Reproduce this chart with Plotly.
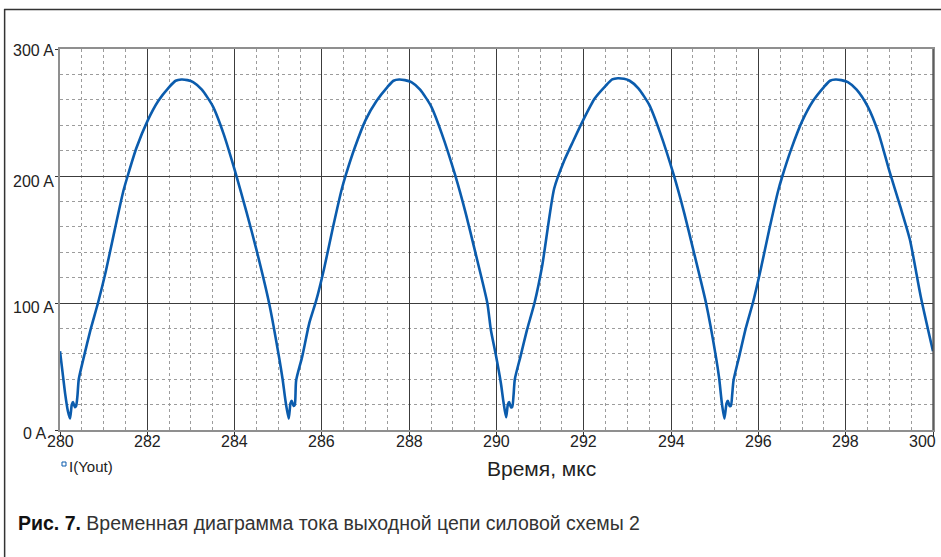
import plotly.graph_objects as go

# Time, µs
time_us = [
    280.00, 280.06, 280.12, 280.18, 280.23, 280.27, 280.30, 280.34, 280.37, 280.40, 280.43,
    280.55, 280.70, 280.87, 281.05, 281.25, 281.45, 281.55, 281.75, 282.00, 282.25, 282.50,
    282.65, 282.78, 282.92, 283.05, 283.25, 283.50, 283.75, 284.00, 284.27, 284.50, 284.79, 285.03, 285.10,
    285.17, 285.24, 285.28, 285.31, 285.35, 285.38, 285.41, 285.55, 285.71,
    285.87, 286.05, 286.25, 286.45, 286.55, 286.75, 287.00, 287.25, 287.50, 287.64, 287.77, 287.90, 288.05,
    288.25, 288.50, 288.75, 289.05, 289.30, 289.50, 289.79, 289.87, 289.98, 290.10, 290.16,
    290.22, 290.26, 290.29, 290.33, 290.36, 290.39, 290.42, 290.55, 290.70,
    290.87, 291.05, 291.32, 291.55, 291.75, 292.00, 292.25, 292.50, 292.65, 292.78, 292.92, 293.05, 293.25,
    293.50, 293.75, 294.05, 294.30, 294.50, 294.80, 295.03, 295.10, 295.16, 295.22, 295.27,
    295.30, 295.34, 295.37, 295.40, 295.43, 295.56, 295.71,
    295.88, 296.05, 296.25, 296.45, 296.55, 296.75, 297.00, 297.25, 297.50, 297.64, 297.77, 297.90, 298.05,
    298.25, 298.50, 298.75, 299.00, 299.25, 299.47, 299.72, 300.00,
]
# Current I(Yout), A
current_a = [
    62, 45, 28, 15, 9, 20, 22, 18, 19, 27, 40,
    58, 79, 100, 125, 157, 188, 200, 222, 243, 259, 270,
    275, 276, 275.5, 274, 268, 255, 233, 205, 172, 142, 100, 55, 40,
    22, 9, 21, 23, 19, 20, 39, 58, 84,
    102, 127, 159, 189, 201, 222, 244, 259, 270, 275, 276, 275.5, 274,
    268, 255, 233, 201, 170, 142, 100, 79, 60, 37, 22,
    10, 20, 22, 18, 18, 27, 40, 58, 79,
    100, 130, 190, 212, 227, 245, 261, 271, 276, 277, 276.5, 275, 269,
    256, 234, 202, 171, 143, 100, 57, 41, 22, 9, 21,
    23, 19, 19, 28, 39, 58, 80,
    101, 126, 158, 188, 200, 221, 243, 259, 270, 275, 276, 275.5, 274,
    268, 255, 234, 204, 176, 150, 105, 62,
]

x_ticks = [280, 282, 284, 286, 288, 290, 292, 294, 296, 298, 300]
y_ticks = [0, 100, 200, 300]
y_tick_text = ["0 A", "100 A", "200 A", "300 A"]

FONT = "Liberation Sans, Arial, sans-serif"

fig = go.Figure()
fig.add_trace(go.Scatter(
    x=time_us, y=current_a, mode="lines",
    line=dict(color="#0b5cad", width=2.6, shape="spline", smoothing=0.6),
    showlegend=False,
))

fig.update_layout(
    width=941, height=557, autosize=False,
    margin=dict(l=60, r=6, t=49, b=127),
    paper_bgcolor="white", plot_bgcolor="white",
    font=dict(family=FONT, color="#222"),
)

fig.update_xaxes(
    range=[280, 300], tickvals=x_ticks, showticklabels=False,
    showgrid=True, gridcolor="#3c3c3c", gridwidth=1,
    minor=dict(dtick=0.5, showgrid=True, gridcolor="#9c9c9c", griddash="dot", gridwidth=1),
    showline=True, linecolor="#8f8f8f", linewidth=2, mirror=True,
    ticks="outside", ticklen=5, tickcolor="#333", tickwidth=1,
    zeroline=False,
)
fig.update_yaxes(
    range=[0, 300], tickvals=y_ticks, showticklabels=False,
    showgrid=True, gridcolor="#3c3c3c", gridwidth=1,
    minor=dict(dtick=20, showgrid=True, gridcolor="#9c9c9c", griddash="dot", gridwidth=1),
    showline=True, linecolor="#8f8f8f", linewidth=2, mirror=True,
    ticks="outside", ticklen=3, tickcolor="#333", tickwidth=1,
    zeroline=False,
)

def px_x(px):
    return (px - 60) / 875.0

def px_y(py):
    return (430 - py) / 381.0

# x tick labels (close under the axis, last one kept inside the page)
for i, v in enumerate(x_ticks):
    last = i == len(x_ticks) - 1
    fig.add_annotation(text=str(v), xref="x", yref="paper", x=v, y=px_y(441),
                       xanchor="right" if last else "center", yanchor="middle",
                       xshift=5 if last else 0, showarrow=False,
                       font=dict(family=FONT, size=16, color="#222"))

# y tick labels (sit slightly below their grid lines, "0 A" pushed left of "280")
y_label_shift = {0: (-12, -3), 100: (-4, -4), 200: (-4, -5), 300: (-4, -1)}
for v, t in zip(y_ticks, y_tick_text):
    dx, dy = y_label_shift[v]
    fig.add_annotation(text=t, xref="paper", yref="y", x=0, y=v,
                       xanchor="right", yanchor="middle", xshift=dx, yshift=dy,
                       showarrow=False, font=dict(family=FONT, size=16, color="#222"))

# dark right edge (major grid line at 300)
fig.add_shape(type="line", xref="paper", yref="paper", x0=1, y0=0, x1=1, y1=1,
              line=dict(color="#3c3c3c", width=1.2))

# outer frame (top and left edges visible)
fig.add_shape(type="line", xref="paper", yref="paper",
              x0=px_x(4), y0=px_y(9.5), x1=px_x(945), y1=px_y(9.5),
              line=dict(color="#333", width=1.5))
fig.add_shape(type="line", xref="paper", yref="paper",
              x0=px_x(4.5), y0=px_y(9), x1=px_x(4.5), y1=px_y(560),
              line=dict(color="#333", width=1.5))

# legend marker
fig.add_shape(type="rect", xref="paper", yref="paper",
              x0=px_x(62), y0=px_y(466), x1=px_x(66), y1=px_y(462),
              line=dict(color="#0b5cad", width=1), fillcolor="white")

fig.add_annotation(text="I(Yout)", xref="paper", yref="paper",
                   x=px_x(67), y=px_y(466), xanchor="left", yanchor="middle",
                   showarrow=False, font=dict(family=FONT, size=15, color="#222"))
fig.add_annotation(text="Время, мкс", xref="paper", yref="paper",
                   x=px_x(543), y=px_y(468), xanchor="center", yanchor="middle",
                   showarrow=False, font=dict(family=FONT, size=21, color="#222"))
fig.add_annotation(
    text="<b>Рис. 7.</b> <span style='color:#333'>Временная диаграмма тока выходной цепи силовой схемы 2</span>",
    xref="paper", yref="paper", x=px_x(16), y=px_y(523), xanchor="left", yanchor="middle",
    showarrow=False, font=dict(family=FONT, size=19.5, color="#111"))

fig.write_html("out.html")
